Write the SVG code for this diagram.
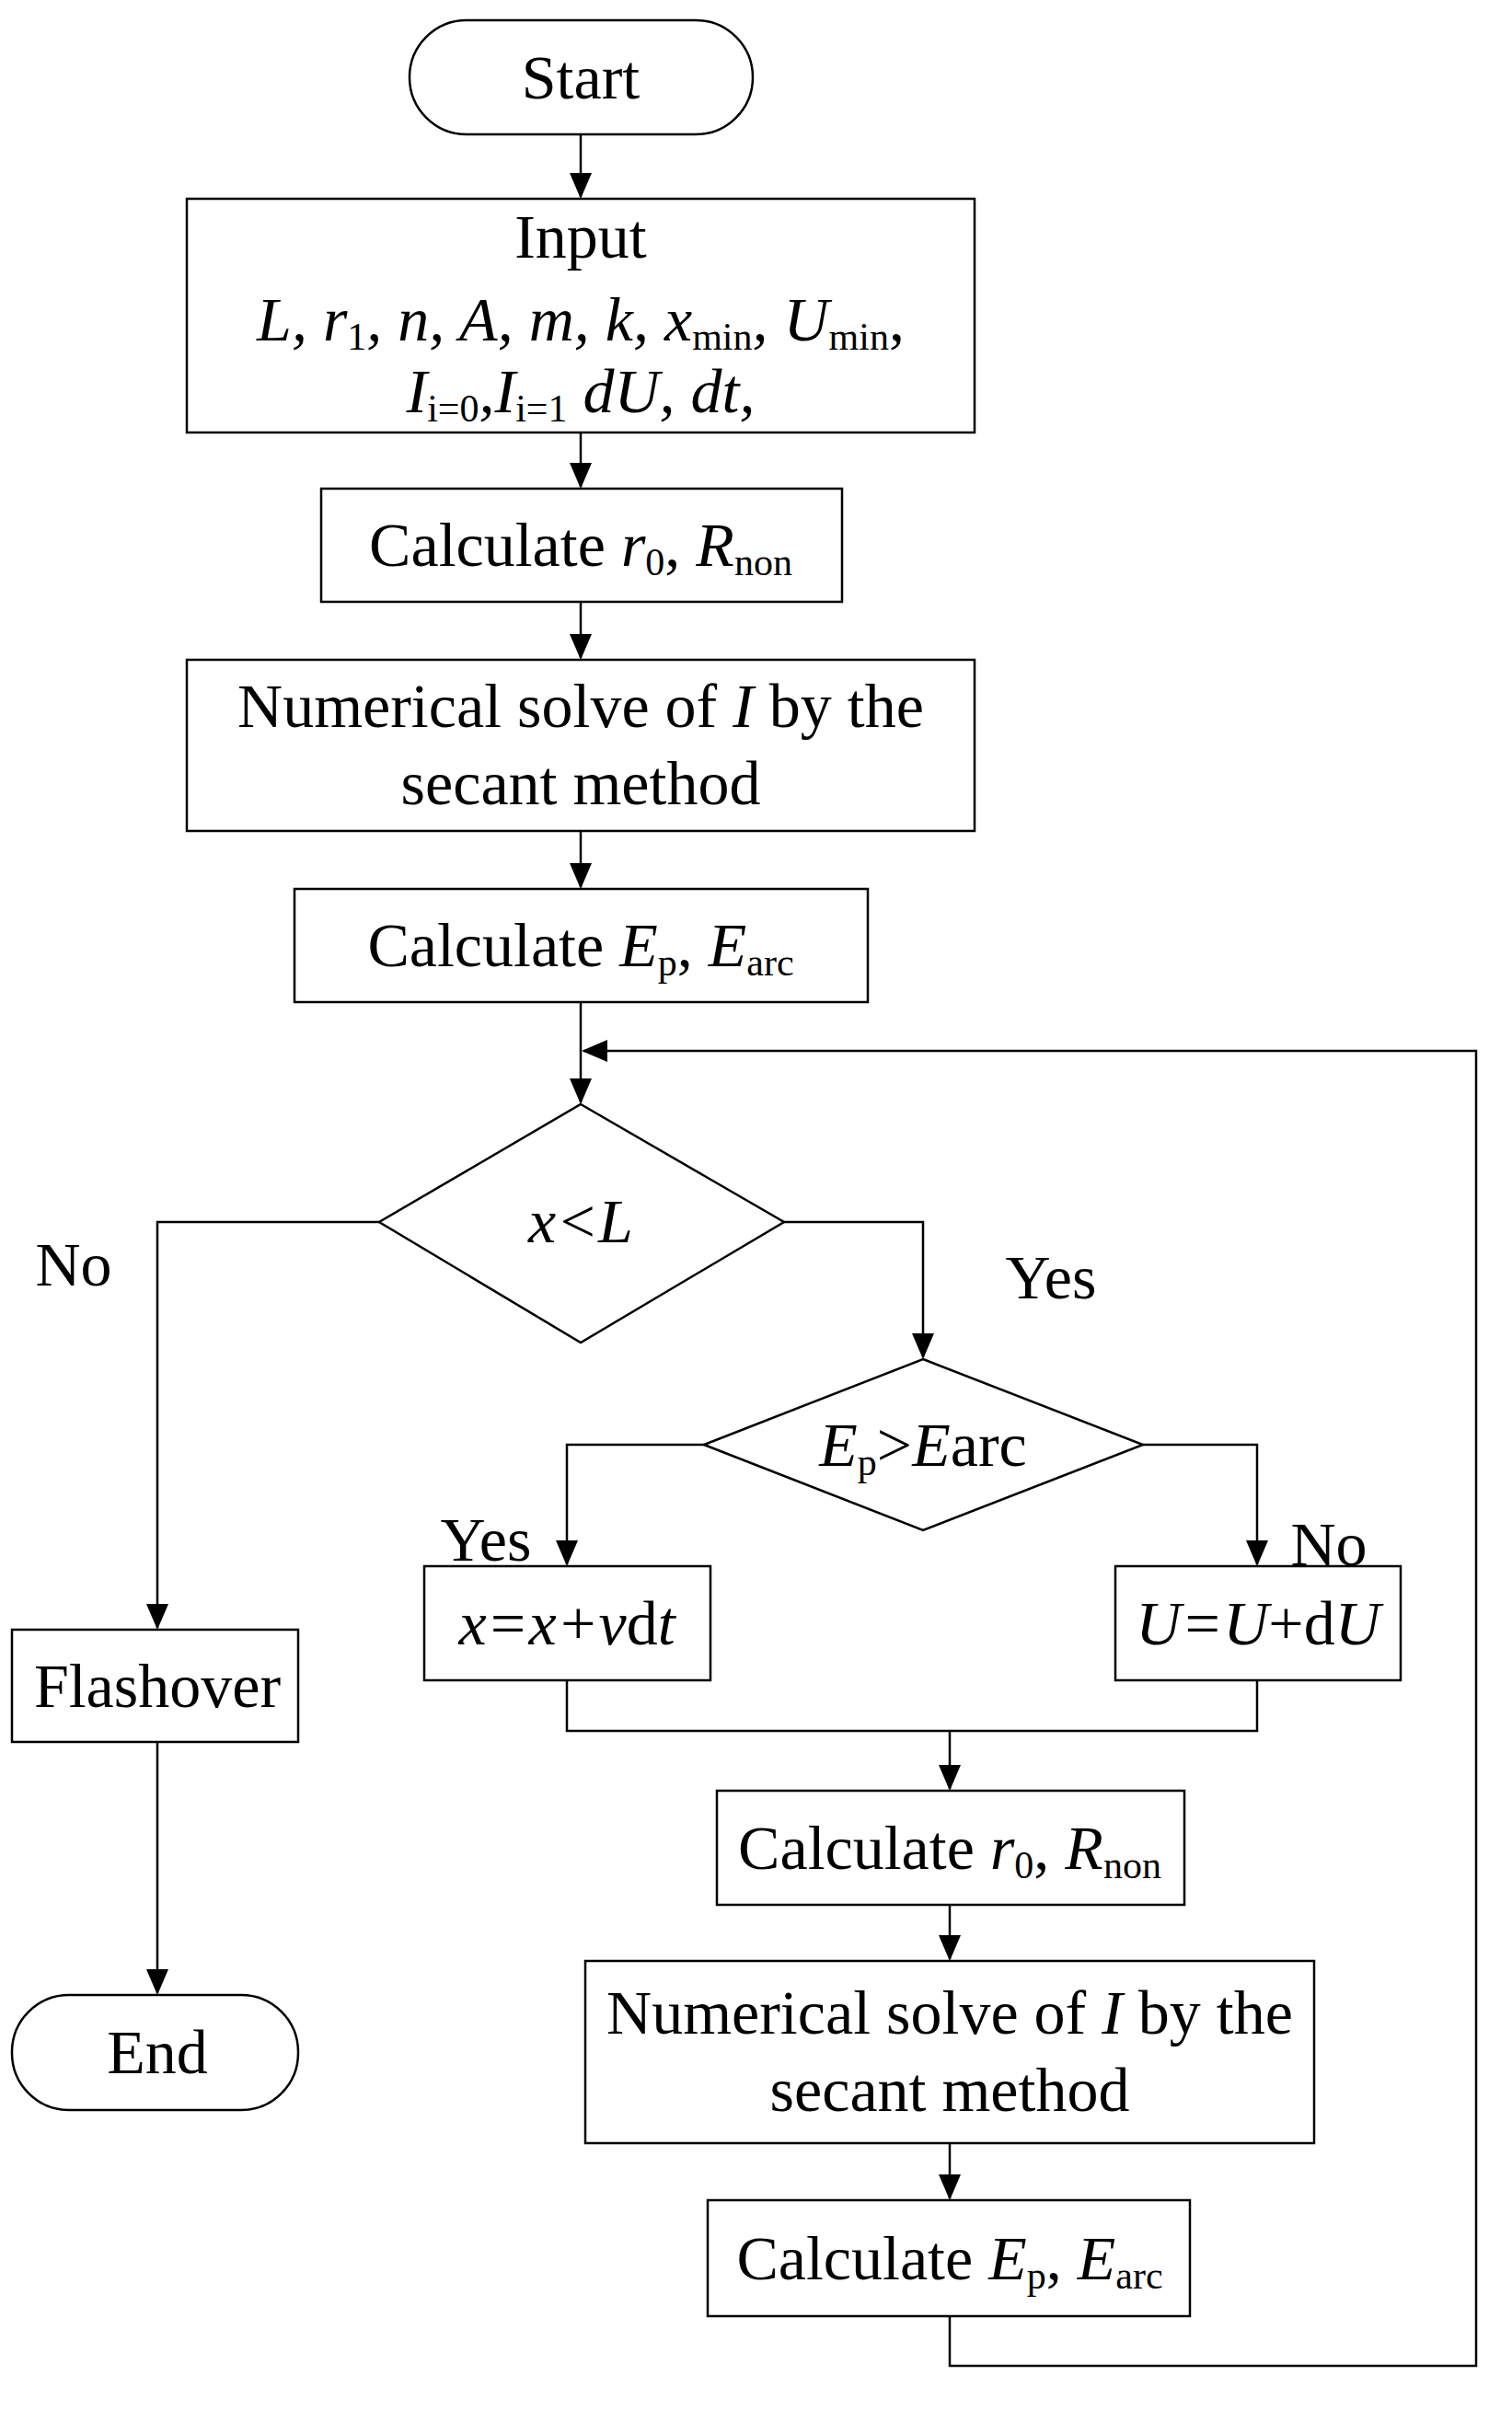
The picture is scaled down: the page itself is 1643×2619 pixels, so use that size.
<svg xmlns="http://www.w3.org/2000/svg" width="1643" height="2619" viewBox="0 0 1643 2619">
<style>
.b{fill:#fff;stroke:#000;stroke-width:2.5}
.c{fill:none;stroke:#000;stroke-width:2.5}
text{font-family:"Liberation Serif","Times New Roman",serif;font-size:68px;fill:#000;text-anchor:middle}
.s{font-size:42px}
</style>
<defs><marker id="ab" markerWidth="28" markerHeight="28" refX="26" refY="12" orient="auto" markerUnits="userSpaceOnUse" viewBox="0 0 28 24"><path d="M0,0L28,12L0,24z" fill="#000"/></marker></defs>
<rect width="1643" height="2619" fill="#fff"/>
<g id="connectors" class="c">
<path d="M631,146V214" marker-end="url(#ab)"/>
<path d="M631,470V529" marker-end="url(#ab)"/>
<path d="M631,654V715" marker-end="url(#ab)"/>
<path d="M631,903V964" marker-end="url(#ab)"/>
<path d="M631,1089V1198" marker-end="url(#ab)"/>
<path d="M1032,2517V2571H1604V1142H634" marker-end="url(#ab)"/>
<path d="M412,1328H171V1769" marker-end="url(#ab)"/>
<path d="M852,1328H1003V1475" marker-end="url(#ab)"/>
<path d="M765,1570H616V1700" marker-end="url(#ab)"/>
<path d="M1242,1570H1366V1700" marker-end="url(#ab)"/>
<path d="M616,1826V1881H1366V1826"/>
<path d="M1032,1881V1944" marker-end="url(#ab)"/>
<path d="M1032,2070V2129" marker-end="url(#ab)"/>
<path d="M1032,2329V2389" marker-end="url(#ab)"/>
<path d="M171,1893V2166" marker-end="url(#ab)"/>
</g>
<g id="start"><rect class="b" x="445" y="22" width="373" height="124" rx="62"/><text x="631" y="107">Start</text></g>
<g id="input"><rect class="b" x="203" y="216" width="856" height="254"/>
<text x="631" y="280">Input</text>
<text x="631" y="370" font-style="italic">L, r<tspan class="s" font-style="normal" dy="10">1</tspan><tspan dy="-10">, n, A, m, k, x</tspan><tspan class="s" font-style="normal" dy="10">min</tspan><tspan dy="-10">, U</tspan><tspan class="s" font-style="normal" dy="10">min</tspan><tspan font-style="normal" dy="-10">,</tspan></text>
<text x="631" y="448" font-style="italic">I<tspan class="s" font-style="normal" dy="10">i=0</tspan><tspan dy="-10">,I</tspan><tspan class="s" font-style="normal" dy="10">i=1</tspan><tspan dy="-10"> dU, dt,</tspan></text></g>
<g id="calc1"><rect class="b" x="349" y="531" width="566" height="123"/><text x="631" y="615">Calculate <tspan font-style="italic">r</tspan><tspan class="s" dy="10">0</tspan><tspan dy="-10">, </tspan><tspan font-style="italic">R</tspan><tspan class="s" dy="10">non</tspan></text></g>
<g id="num1"><rect class="b" x="203" y="717" width="856" height="186"/><text x="631" y="790">Numerical solve of <tspan font-style="italic">I</tspan> by the</text><text x="631" y="874">secant method</text></g>
<g id="calcE1"><rect class="b" x="320" y="966" width="623" height="123"/><text x="631" y="1050">Calculate <tspan font-style="italic">E</tspan><tspan class="s" dy="10">p</tspan><tspan dy="-10">, </tspan><tspan font-style="italic">E</tspan><tspan class="s" dy="10">arc</tspan></text></g>
<g id="d1"><path class="b" d="M631,1200L852,1328L631,1459L412,1328z"/><text x="631" y="1350" font-style="italic">x&lt;L</text></g>
<g id="d2"><path class="b" d="M1003,1477L1242,1570L1003,1663L765,1570z"/><text x="1003" y="1593"><tspan font-style="italic">E</tspan><tspan class="s" dy="10">p</tspan><tspan dy="-10">&gt;</tspan><tspan font-style="italic">E</tspan>arc</text></g>
<g id="labels"><text x="80" y="1397">No</text><text x="1142" y="1411">Yes</text><text x="528" y="1696">Yes</text><text x="1444" y="1701">No</text></g>
<g id="xbox"><rect class="b" x="461" y="1702" width="311" height="124"/><text x="616" y="1787" font-style="italic">x=x+v<tspan font-style="normal">d</tspan>t</text></g>
<g id="ubox"><rect class="b" x="1212" y="1702" width="310" height="124"/><text x="1367" y="1787" font-style="italic">U=U<tspan font-style="normal">+d</tspan>U</text></g>
<g id="calc2"><rect class="b" x="779" y="1946" width="508" height="124"/><text x="1032" y="2031">Calculate <tspan font-style="italic">r</tspan><tspan class="s" dy="10">0</tspan><tspan dy="-10">, </tspan><tspan font-style="italic">R</tspan><tspan class="s" dy="10">non</tspan></text></g>
<g id="num2"><rect class="b" x="636" y="2131" width="792" height="198"/><text x="1032" y="2210">Numerical solve of <tspan font-style="italic">I</tspan> by the</text><text x="1032" y="2294">secant method</text></g>
<g id="calcE2"><rect class="b" x="769" y="2391" width="524" height="126"/><text x="1032" y="2477">Calculate <tspan font-style="italic">E</tspan><tspan class="s" dy="10">p</tspan><tspan dy="-10">, </tspan><tspan font-style="italic">E</tspan><tspan class="s" dy="10">arc</tspan></text></g>
<g id="flash"><rect class="b" x="13" y="1771" width="311" height="122"/><text x="171" y="1855">Flashover</text></g>
<g id="end"><rect class="b" x="13" y="2168" width="311" height="125" rx="62"/><text x="171" y="2253">End</text></g>
</svg>
